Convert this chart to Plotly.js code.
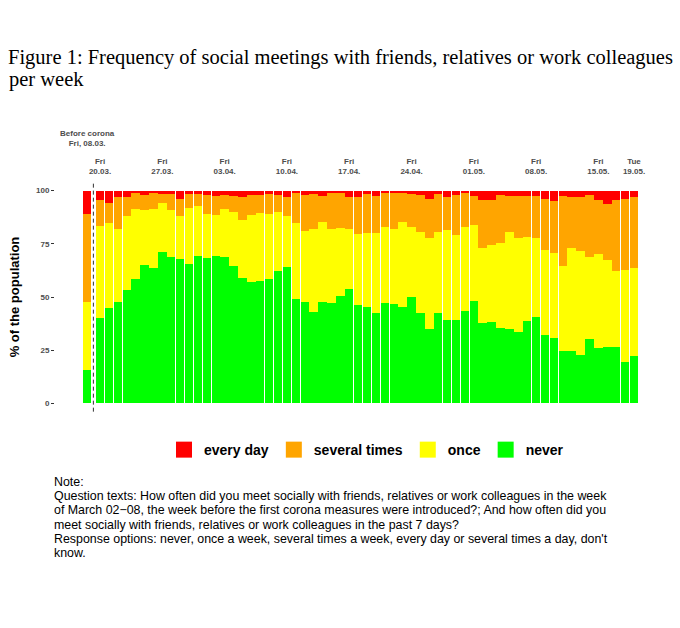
<!DOCTYPE html>
<html>
<head>
<meta charset="utf-8">
<script src="https://cdn.plot.ly/plotly-3.0.1.min.js"></script>
<style>
  body { margin: 0; background: #fff; }
  #chart { width: 680px; height: 628px; }
</style>
</head>
<body>
<div id="chart"></div>
<script>
// categories: one bar before corona, then one bar per day 20.03. - 19.05.
let beforeDate = '2020-03-18 13:00';
let firstDay = '2020-03-20';
let nDays = 61;

// shares in % of the population, first entry = before corona (08.03.)
let never = [15.7,
  40.3, 44.7, 47.8, 53.1, 58.6, 65.0, 63.5, 71.0, 68.9, 67.8,
  65.5, 69.4, 68.5, 69.1, 68.6, 64.7, 59.1, 56.9, 57.5, 58.5,
  62.2, 64.2, 49.1, 47.5, 43.1, 47.5, 47.0, 50.6, 53.8, 46.2,
  45.5, 42.6, 47.0, 46.5, 45.5, 50.2, 42.3, 35.0, 42.3, 39.2,
  39.2, 43.4, 48.1, 37.6, 38.4, 35.6, 34.8, 33.7, 38.7, 40.8,
  32.2, 30.6, 24.8, 24.8, 22.8, 30.1, 25.9, 26.7, 26.4, 19.6,
  22.5];
let once = [31.8,
  43.2, 39.9, 34.1, 35.1, 33.0, 25.8, 28.1, 23.4, 21.9, 20.4,
  26.5, 23.5, 20.5, 19.4, 23.0, 25.4, 27.0, 31.6, 31.8, 30.3,
  27.6, 24.0, 35.5, 33.5, 39.1, 37.9, 34.9, 31.9, 28.4, 33.4,
  34.4, 37.3, 36.0, 35.4, 39.9, 32.5, 38.4, 42.9, 38.4, 42.3,
  39.9, 39.6, 35.7, 35.6, 36.0, 39.6, 45.6, 44.2, 39.6, 37.1,
  39.9, 39.9, 39.8, 48.4, 48.6, 38.5, 44.1, 40.7, 35.8, 43.1,
  41.0];
let several = [41.5,
  12.0, 9.8, 15.2, 8.9, 7.1, 7.1, 7.1, 4.0, 7.6, 8.1,
  6.2, 5.3, 8.9, 9.1, 6.3, 7.5, 11.0, 9.4, 8.6, 9.4,
  8.1, 8.9, 14.5, 16.9, 16.0, 12.2, 16.8, 16.6, 14.9, 17.2,
  18.3, 17.7, 15.7, 17.2, 13.3, 15.5, 17.2, 18.4, 17.5, 15.6,
  18.8, 15.7, 13.6, 22.3, 21.1, 22.7, 17.2, 19.7, 19.3, 19.5,
  24.2, 24.7, 33.0, 23.6, 25.4, 29.3, 25.5, 26.3, 33.3, 33.6,
  33.6];
let everyDay = [11.0,
  4.5, 5.6, 2.9, 2.9, 1.3, 2.1, 1.3, 1.6, 1.6, 3.7,
  1.8, 1.8, 2.1, 2.4, 2.1, 2.4, 2.9, 2.1, 2.1, 1.8,
  2.1, 2.9, 0.9, 2.1, 1.8, 2.4, 1.3, 0.9, 2.9, 3.2,
  1.8, 2.4, 1.3, 0.9, 1.3, 1.8, 2.1, 3.7, 1.8, 2.9,
  2.1, 1.3, 2.6, 4.5, 4.5, 2.1, 2.4, 2.4, 2.4, 2.6,
  3.7, 4.8, 2.4, 3.2, 3.2, 2.1, 4.5, 6.3, 4.5, 3.7,
  2.9];

// top axis labels
let tickDates = ['2020-03-20', '2020-03-27', '2020-04-03', '2020-04-10', '2020-04-17',
  '2020-04-24', '2020-05-01', '2020-05-08', '2020-05-15', '2020-05-19'];
let tickLabels = ['Fri<br>20.03.', 'Fri<br>27.03.', 'Fri<br>03.04.', 'Fri<br>10.04.', 'Fri<br>17.04.',
  'Fri<br>24.04.', 'Fri<br>01.05.', 'Fri<br>08.05.', 'Fri<br>15.05.', 'Tue<br>19.05.'];

let noteLines = [
  'Note:',
  'Question texts: How often did you meet socially with friends, relatives or work colleagues in the week',
  'of March 02\u221208, the week before the first corona measures were introduced?; And how often did you',
  'meet socially with friends, relatives or work colleagues in the past 7 days?',
  'Response options: never, once a week, several times a week, every day or several times a day, don\'t',
  'know.'
];

// x positions
let day = 86400000;
let xs = [beforeDate];
let start = new Date(firstDay + 'T00:00:00Z').getTime();
for (let i = 0; i < nDays; i++) {
  xs.push(new Date(start + i * day).toISOString().slice(0, 10));
}

let sans = 'Liberation Sans, Arial, sans-serif';
let serif = 'Liberation Serif, Times New Roman, serif';
let colors = {never: '#00FF00', once: '#FFFF00', several: '#FFA500', every: '#FF0000'};

function barTrace(name, y, color) {
  return {
    type: 'bar', name: name, x: xs, y: y,
    width: 0.95 * day,
    marker: {color: color, line: {width: 0}},
    showlegend: false, hoverinfo: 'x+y+name'
  };
}

// legend-only entries with bigger squares
function legendTrace(name, color) {
  return {
    type: 'scatter', mode: 'markers', name: name, x: [null], y: [null],
    marker: {symbol: 'square', size: 16, color: color}, showlegend: true
  };
}

let data = [
  barTrace('never', never, colors.never),
  barTrace('once', once, colors.once),
  barTrace('several times', several, colors.several),
  barTrace('every day', everyDay, colors.every),
  legendTrace('every day', colors.every),
  legendTrace('several times', colors.several),
  legendTrace('once', colors.once),
  legendTrace('never', colors.never)
];

let annotations = [{
  text: 'Before corona<br>Fri, 08.03.', x: beforeDate, xref: 'x',
  y: 1.127, yref: 'paper', yanchor: 'bottom', showarrow: false,
  font: {family: sans, size: 8, color: '#4d4d4d', weight: 'bold'}
}, {
  text: 'per week', xref: 'paper', x: -48 / 612, xanchor: 'left',
  yref: 'paper', y: (414 - 80) / 234, yanchor: 'middle', showarrow: false,
  font: {family: serif, size: 20.5, color: '#000'}
}];
let noteY = [482, 496.2, 510.4, 524.6, 538.8, 553];
noteLines.forEach(function (t, k) {
  annotations.push({
    text: t, xref: 'paper', x: -0.003, xanchor: 'left',
    yref: 'paper', y: (414 - noteY[k]) / 234, yanchor: 'middle',
    showarrow: false, align: 'left', borderpad: 0,
    font: {family: sans, size: 12.4, color: '#000'}
  });
});

let layout = {
  width: 680, height: 628,
  margin: {l: 55, r: 13, t: 180, b: 214},
  paper_bgcolor: '#fff', plot_bgcolor: '#fff',
  barmode: 'stack', bargap: 0,
  title: {
    text: 'Figure 1: Frequency of social meetings with friends, relatives or work colleagues',
    x: 8 / 680, xref: 'container', xanchor: 'left',
    y: 1 - 57 / 628, yref: 'container', yanchor: 'middle',
    font: {family: serif, size: 20.5, color: '#000'}
  },
  xaxis: {
    type: 'date', side: 'top',
    range: ['2020-03-14 22:30', '2020-05-22 17:00'],
    tickvals: tickDates, ticktext: tickLabels,
    ticks: '', showgrid: false, zeroline: false, showline: false,
    ticklabelstandoff: 3,
    tickfont: {family: sans, size: 8, color: '#4d4d4d', weight: 'bold'}
  },
  yaxis: {
    range: [-5, 105], tickvals: [0, 25, 50, 75, 100],
    ticks: 'outside', ticklen: 3, tickcolor: '#333', tickwidth: 1,
    showgrid: false, zeroline: false, showline: false,
    tickfont: {family: sans, size: 8, color: '#4d4d4d', weight: 'bold'},
    title: {text: '% of the population', font: {family: sans, size: 13, color: '#000', weight: 'bold'}}
  },
  legend: {
    orientation: 'h', x: 0.509, xanchor: 'center', y: -0.154, yanchor: 'middle',
    font: {family: sans, size: 14, color: '#000', weight: 'bold'},
    traceorder: 'normal'
  },
  shapes: [{
    type: 'line', xref: 'x', yref: 'paper',
    x0: '2020-03-19 06:00', x1: '2020-03-19 06:00', y0: 0.01, y1: 0.992,
    line: {color: '#333', width: 1, dash: '4px,3px'}
  }],
  annotations: annotations
};

Plotly.newPlot('chart', data, layout, {displayModeBar: false, staticPlot: true});
</script>
</body>
</html>
